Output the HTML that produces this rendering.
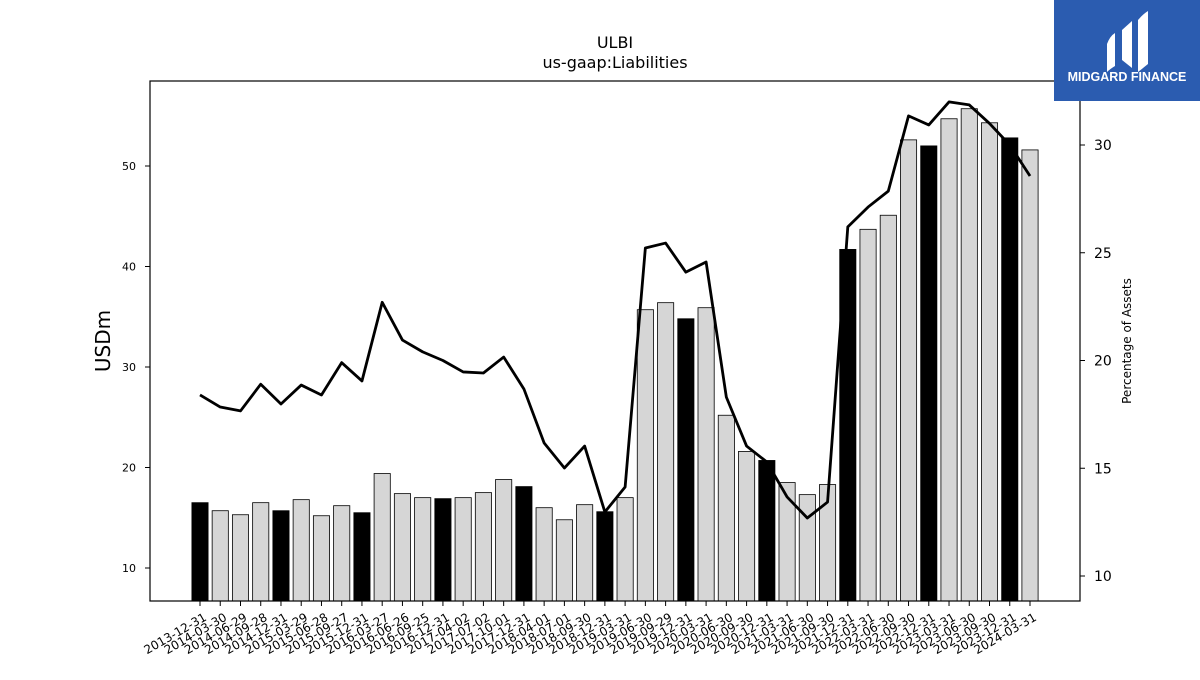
<!DOCTYPE html>
<html><head><meta charset="utf-8"><style>
body{margin:0;background:#fff;font-family:"Liberation Sans","DejaVu Sans",sans-serif}
</style></head><body>
<svg id="chart" width="1200" height="675" xmlns="http://www.w3.org/2000/svg" font-family="DejaVu Sans, Liberation Sans, sans-serif">
<rect width="1200" height="675" fill="#fff"/>
<text x="615" y="48" text-anchor="middle" font-size="16">ULBI</text>
<text x="615" y="68" text-anchor="middle" font-size="16">us-gaap:Liabilities</text>
<g id="plot"></g>
<rect x="150" y="81" width="930" height="520" fill="none" stroke="#000" stroke-width="1.2"/>
<text transform="translate(110,341) rotate(-90)" text-anchor="middle" font-size="20">USDm</text>
<text transform="translate(1131,341) rotate(-90)" text-anchor="middle" font-size="12">Percentage of Assets</text>
<g>
<rect x="1054" y="0" width="146" height="101" fill="#2b5cb0"/>
<path d="M1107 44 Q1110 36 1115 33 L1115 66 Q1110 69 1107 72 Z" fill="#fff"/>
<path d="M1122 30 L1132 21 L1132 68 L1122 60 Z" fill="#fff"/>
<path d="M1138 20 Q1143 14 1148 11 L1148 64 Q1143 68 1138 72 Z" fill="#fff"/>
<text x="1127" y="81" text-anchor="middle" font-size="12.5" font-weight="bold" fill="#fff" font-family="Liberation Sans, sans-serif">MIDGARD FINANCE</text>
</g>
</svg>
<script>
const dates=["2013-12-31","2014-03-30","2014-06-29","2014-09-28","2014-12-31","2015-03-29","2015-06-28","2015-09-27","2015-12-31","2016-03-27","2016-06-26","2016-09-25","2016-12-31","2017-04-02","2017-07-02","2017-10-01","2017-12-31","2018-04-01","2018-07-01","2018-09-30","2018-12-31","2019-03-31","2019-06-30","2019-09-29","2019-12-31","2020-03-31","2020-06-30","2020-09-30","2020-12-31","2021-03-31","2021-06-30","2021-09-30","2021-12-31","2022-03-31","2022-06-30","2022-09-30","2022-12-31","2023-03-31","2023-06-30","2023-09-30","2023-12-31","2024-03-31"];
const liabilities=[16.5,15.7,15.3,16.5,15.7,16.8,15.2,16.2,15.5,19.4,17.4,17.0,16.9,17.0,17.5,18.8,18.1,16.0,14.8,16.3,15.6,17.0,35.7,36.4,34.8,35.9,25.2,21.6,20.7,18.5,17.3,18.3,41.7,43.7,45.1,52.6,52.0,54.7,55.7,54.3,52.8,51.6];
const pctAssets=[18.4,17.84,17.66,18.9,17.98,18.86,18.4,19.9,19.05,22.7,20.95,20.4,20.0,19.47,19.42,20.16,18.68,16.17,15.01,16.03,12.97,14.13,25.22,25.45,24.1,24.57,18.3,16.03,15.29,13.67,12.69,13.43,26.2,27.12,27.86,31.35,30.93,32.0,31.86,31.0,30.0,28.56];
const leftTicks=[10,20,30,40,50];
const rightTicks=[10,15,20,25,30];
const NS="http://www.w3.org/2000/svg";
const g=document.getElementById('plot');
const yL=v=>568-(v-10)*10.05;
const yR=v=>576-(v-10)*21.55;
const xS=i=>200+i*(830/41);
const bw=16.2;
function mk(t,a){const e=document.createElementNS(NS,t);for(const k in a)e.setAttribute(k,a[k]);g.appendChild(e);return e;}
liabilities.forEach((v,i)=>{
 const r=mk('rect',{x:xS(i)-bw/2,y:yL(v),width:bw,height:601-yL(v),fill:i%4===0?'#000':'#d6d6d6',stroke:'#000','stroke-width':0.8});
 
 
 const tk=mk('line',{x1:xS(i),x2:xS(i),y1:601,y2:606,stroke:'#000'});
 
 
 const t=mk('text',{transform:`translate(${xS(i)+3},${612}) rotate(-30)`,'text-anchor':'end','font-size':12,'dominant-baseline':'hanging'});
 t.textContent=dates[i];
 
 
});
const pl=mk('polyline',{points:pctAssets.map((v,i)=>xS(i)+','+yR(v)).join(' '),fill:'none',stroke:'#000','stroke-width':2.8,'stroke-linejoin':'round'});


leftTicks.forEach(v=>{
 const l=mk('line',{x1:145,x2:150,y1:yL(v),y2:yL(v),stroke:'#000'});
 
 
 const t=mk('text',{x:136,y:yL(v)+4,'text-anchor':'end','font-size':11});
 t.textContent=v;
 
 
});
rightTicks.forEach(v=>{
 const l=mk('line',{x1:1080,x2:1085,y1:yR(v),y2:yR(v),stroke:'#000'});
 
 
 const t=mk('text',{x:1094,y:yR(v)+5,'font-size':14});
 t.textContent=v;
 
 
});
</script>
</body></html>
